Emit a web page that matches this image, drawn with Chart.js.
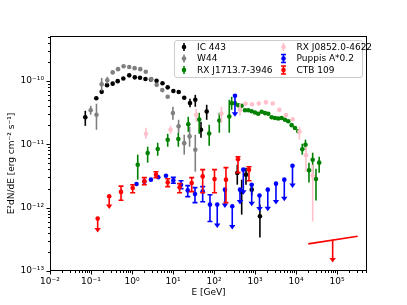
<!DOCTYPE html>
<html>
<head>
<meta charset="utf-8">
<script src="https://cdn.jsdelivr.net/npm/chart.js@4.4.0/dist/chart.umd.min.js"></script>
<style>
  html, body { margin: 0; padding: 0; background: #fff; }
</style>
</head>
<body>
<canvas id="sedChart" width="407" height="305"></canvas>
<script>
// IC 443
const ic443E = [0.0726, 0.1345, 0.182, 0.246, 0.338, 0.448, 0.614, 0.855, 1.17, 1.57, 2.13, 2.90, 3.98, 5.55, 7.43, 10.2, 13.8, 18.8, 26.0, 35.0, 48.2, 66.4, 370, 474, 603, 832, 1320];
const ic443F = [2.66e-11, 5.30e-11, 6.71e-11, 8.56e-11, 9.04e-11, 9.9e-11, 1.09e-10, 1.22e-10, 1.135e-10, 1.12e-10, 1.07e-10, 1.05e-10, 1.0e-10, 9.14e-11, 7.9e-11, 6.9e-11, 6.67e-11, 5.4e-11, 4.46e-11, 5.02e-11, 1.69e-11, 3.29e-11, 3.52e-12, 1.77e-12, 3.31e-12, 1.92e-12, 7.3e-13];
const ic443Lo = [1.95e-11, null, null, null, null, null, null, null, null, null, null, null, null, null, null, null, null, null, 3.83e-11, 3.9e-11, 1.265e-11, 2.43e-11, 2.30e-12, 7.76e-13, 2.30e-12, 1.55e-12, 3.37e-13];
const ic443Hi = [3.37e-11, null, null, null, null, null, null, null, null, null, null, null, null, null, null, null, null, null, 5.21e-11, 6.02e-11, 2.26e-11, 4.19e-11, 4.75e-12, 2.76e-12, 4.27e-12, 2.39e-12, 1.115e-12];

// W44
const w44E = [0.0984, 0.136, 0.182, 0.25, 0.338, 0.456, 0.624, 0.855, 1.16, 1.59, 2.17, 2.96, 4.0, 5.48, 7.43, 9.95, 13.7, 18.8, 25.4, 35.0];
const w44F = [3.43e-11, 2.92e-11, 8.81e-11, 1.02e-10, 1.36e-10, 1.53e-10, 1.70e-10, 1.65e-10, 1.585e-10, 1.53e-10, 1.39e-10, 1.07e-10, 8.65e-11, 7.14e-11, 5.6e-11, 3.10e-11, 1.92e-11, 1.04e-11, 1.33e-11, 8.19e-12];
const w44Lo = [2.92e-11, 1.69e-11, 6.97e-11, 8.97e-11, null, null, null, null, null, null, null, null, null, null, null, 2.43e-11, 1.52e-11, 6.84e-12, 9.14e-12, 3.69e-12];
const w44Hi = [4.04e-11, 4.35e-11, 1.114e-10, 1.16e-10, null, null, null, null, null, null, null, null, null, null, null, 3.9e-11, 2.43e-11, 1.41e-11, 1.89e-11, 1.41e-11];

// RX J1713.7-3946
const rxj1713E = [1.38, 2.41, 4.24, 7.43, 13.5, 23.6, 43.6, 76.4, 135, 236, 270, 325, 392, 474, 570, 687, 832, 1000, 1200, 1456, 1754, 2110, 2553, 3076, 3698, 4477, 5395, 6486, 7852, 9462, 11380, 14250, 17060, 20750, 25530, 30760, 36810];
const rxj1713F = [4.75e-12, 7.26e-12, 8.4e-12, 1.18e-11, 1.21e-11, 2.07e-11, 2.45e-11, 1.48e-11, 2.37e-11, 2.74e-11, 4.42e-11, 4.42e-11, 4.11e-11, 4.04e-11, 3.43e-11, 3.43e-11, 3.31e-11, 3.16e-11, 3.02e-11, 3.25e-11, 3.10e-11, 3.02e-11, 2.66e-11, 2.59e-11, 2.54e-11, 2.59e-11, 2.43e-11, 2.30e-11, 2.0e-11, 1.80e-11, 1.60e-11, 8.34e-12, 9.82e-12, 3.87e-12, 5.70e-12, 2.83e-12, 5.12e-12];
const rxj1713Lo = [2.76e-12, 5.12e-12, 6.59e-12, 9.14e-12, 9.14e-12, 1.57e-11, 1.46e-11, 9.46e-12, 1.52e-11, 1.52e-11, 3.49e-11, null, null, null, null, null, null, null, null, null, null, null, null, null, null, null, null, null, null, null, null, 6.84e-12, 8.19e-12, 2.48e-12, 3.19e-12, 1.29e-12, 3.56e-12];
const rxj1713Hi = [6.84e-12, 9.14e-12, 1.057e-11, 1.46e-11, 1.52e-11, 2.71e-11, 3.13e-11, 2.03e-11, 3.13e-11, 5.02e-11, 5.6e-11, null, null, null, null, null, null, null, null, null, null, null, null, null, null, null, null, null, null, null, null, 1.02e-11, 1.18e-11, 5.12e-12, 7.35e-12, 4.11e-12, 6.36e-12];

// RX J0852.0-4622
const rxj0852E = [2.19, 8.69, 37.0, 152, 431, 587, 845, 1239, 1854, 2704, 3917, 5703, 8318, 12160, 17540, 25530];
const rxj0852F = [1.46e-11, 1.69e-11, 2.92e-11, 3.02e-11, 3.49e-11, 4.35e-11, 4.27e-11, 4.39e-11, 4.58e-11, 4.39e-11, 3.49e-11, 2.88e-11, 2.48e-11, 1.57e-11, 6.71e-12, 3.19e-12];
const rxj0852Lo = [1.22e-11, 1.46e-11, 2.26e-11, 2.18e-11, 2.81e-11, null, null, null, null, null, null, null, null, 1.18e-11, 3.69e-12, 6.03e-13];
const rxj0852Hi = [1.82e-11, 1.95e-11, 3.62e-11, 3.9e-11, 4.35e-11, null, null, null, null, null, null, null, null, 1.89e-11, 9.14e-12, 4.75e-12];

// Puppis A (scaled by 0.2)
const puppisE = [1.29, 2.0, 2.90, 4.38, 6.75, 10.2, 15.7, 22.9, 34.4, 53.0, 79.8];
const puppisF = [2.36e-12, 2.57e-12, 2.76e-12, 3.02e-12, 3.19e-12, 2.69e-12, 2.30e-12, 1.87e-12, 1.64e-12, 1.81e-12, 1.115e-12];
const puppisLo = [null, null, null, null, null, 2.42e-12, 1.99e-12, 1.49e-12, 1.2e-12, 1.24e-12, 6.03e-13];
const puppisHi = [null, null, null, null, null, 3.0e-12, 2.66e-12, 2.22e-12, 2.07e-12, 2.14e-12, 1.6e-12];
const puppisUlE = [120, 185, 279, 325, 431, 519, 832, 1288, 2051, 3251, 5188, 8222];
const puppisUlF = [1.115e-12, 1.92e-12, 1.05e-12, 5.81e-11, 1.92e-12, 3.97e-12, 2.30e-12, 1.55e-12, 1.92e-12, 2.39e-12, 2.76e-12, 4.58e-12];
const puppisUlTip = [4.79e-13, 9.89e-13, 4.51e-13, 2.71e-11, 1.115e-12, 1.6e-12, 1.05e-12, 8.65e-13, 8.75e-13, 1.115e-12, 1.26e-12, 2.04e-12];

// CTB 109
const ctbE = [0.54, 1.04, 2.0, 3.85, 7.43, 14.5, 28.6, 53.0, 103, 196, 385, 714];
const ctbF = [1.77e-12, 2.04e-12, 2.61e-12, 3.31e-12, 2.50e-12, 2.10e-12, 2.45e-12, 3.11e-12, 2.83e-12, 2.76e-12, 5.81e-12, 3.97e-12];
const ctbLo = [1.31e-12, 1.72e-12, 2.30e-12, 2.97e-12, 2.14e-12, 1.72e-12, 1.79e-12, 1.72e-12, 1.72e-12, 1.2e-12, 3.56e-12, 2.66e-12];
const ctbHi = [2.18e-12, 2.30e-12, 2.97e-12, 3.69e-12, 2.86e-12, 2.39e-12, 2.97e-12, 3.97e-12, 3.97e-12, 4.27e-12, 6.36e-12, 4.42e-12];
const ctbUlE = [0.1455, 0.278];
const ctbUlF = [6.71e-13, 1.51e-12];
const ctbUlTip = [4.04e-13, 9.55e-13];
const ctbTevE = [19950, 3.2e5];
const ctbTevF = [2.68e-13, 3.53e-13];
const ctbTevUlE = [78500];
const ctbTevUlF = [3.13e-13];
const ctbTevUlTip = [1.36e-13];

// axes
const xMin = 1e-2, xMax = 5.4e5;
const yMin = 1e-13, yMax = 5.1e-10;
const xDecades = [-2, -1, 0, 1, 2, 3, 4, 5];
const yDecades = [-13, -12, -11, -10];
const xTitle = 'E [GeV]';
const yTitle = 'E\u00B2dN/dE [erg cm\u207B\u00B2 s\u207B\u00B9]';

const FONT = { family: 'DejaVu Sans', size: 9 };
const sup = { '-': '\u207B', '0': '\u2070', '1': '\u00B9', '2': '\u00B2', '3': '\u00B3', '4': '\u2074', '5': '\u2075', '6': '\u2076', '7': '\u2077', '8': '\u2078', '9': '\u2079' };
function powLabel(v) {
  const e = Math.round(Math.log10(v));
  return '10' + String(e).split('').map(c => sup[c]).join('');
}
function pts(xs, ys) { return xs.map((x, i) => ({ x: x, y: ys[i] })); }

function series(label, xs, ys, color, extra) {
  return Object.assign({
    label: label,
    data: pts(xs, ys),
    backgroundColor: color,
    borderColor: color,
    pointRadius: 2.3,
    pointBorderWidth: 0,
    showLine: false
  }, extra);
}

const datasets = [
  series('IC 443', ic443E, ic443F, '#000000', { lo: ic443Lo, hi: ic443Hi }),
  series('W44', w44E, w44F, '#808080', { lo: w44Lo, hi: w44Hi }),
  series('RX J1713.7-3946', rxj1713E, rxj1713F, '#008000', { lo: rxj1713Lo, hi: rxj1713Hi }),
  series('RX J0852.0-4622', rxj0852E, rxj0852F, '#ffc0cb', { lo: rxj0852Lo, hi: rxj0852Hi }),
  series('Puppis A*0.2', puppisE, puppisF, '#0000ff', { lo: puppisLo, hi: puppisHi, cap: true }),
  series('Puppis A UL', puppisUlE, puppisUlF, '#0000ff', { tip: puppisUlTip }),
  series('CTB 109', ctbE, ctbF, '#ff0000', { lo: ctbLo, hi: ctbHi, cap: true }),
  series('CTB 109 UL', ctbUlE, ctbUlF, '#ff0000', { tip: ctbUlTip }),
  series('CTB 109 TeV', ctbTevE, ctbTevF, '#ff0000', { showLine: true, pointRadius: 0, borderWidth: 1.6 }),
  series('CTB 109 TeV UL', ctbTevUlE, ctbTevUlF, '#ff0000', { tip: ctbTevUlTip, pointRadius: 0 })
];
datasets.forEach((d, i) => { d.order = datasets.length - i; });

// error bars and upper-limit arrows, drawn just before each dataset's markers
const errorBars = {
  id: 'errorBars',
  beforeDatasetDraw(chart, args) {
    const ds = chart.data.datasets[args.index];
    const xs = chart.scales.x, ys = chart.scales.y;
    const ctx = chart.ctx;
    ctx.save();
    ctx.strokeStyle = ds.borderColor;
    ctx.fillStyle = ds.borderColor;
    ctx.lineWidth = 1.6;
    ds.data.forEach((p, i) => {
      const px = xs.getPixelForValue(p.x);
      if (ds.lo && ds.lo[i] != null) {
        const y1 = ys.getPixelForValue(ds.hi[i]);
        const y2 = ys.getPixelForValue(ds.lo[i]);
        ctx.beginPath();
        ctx.moveTo(px, y1); ctx.lineTo(px, y2);
        if (ds.cap) {
          ctx.moveTo(px - 2.5, y1); ctx.lineTo(px + 2.5, y1);
          ctx.moveTo(px - 2.5, y2); ctx.lineTo(px + 2.5, y2);
        }
        ctx.stroke();
      }
      if (ds.tip) {
        const y1 = ys.getPixelForValue(p.y);
        const y2 = ys.getPixelForValue(ds.tip[i]);
        ctx.beginPath();
        ctx.moveTo(px, y1); ctx.lineTo(px, y2 - 3);
        ctx.stroke();
        ctx.beginPath();
        ctx.moveTo(px - 3.2, y2 - 4.5); ctx.lineTo(px + 3.2, y2 - 4.5); ctx.lineTo(px, y2);
        ctx.closePath();
        ctx.fill();
      }
    });
    ctx.restore();
  }
};

// matplotlib-like frame with outward major/minor ticks, plus the axis titles
const frameTicks = {
  id: 'frameTicks',
  afterDatasetsDraw(chart) {
    const { ctx, chartArea: a, scales: { x, y } } = chart;
    ctx.save();
    ctx.strokeStyle = '#000';
    ctx.lineWidth = 1;
    ctx.strokeRect(Math.round(a.left) + 0.5, Math.round(a.top) + 0.5, Math.round(a.width) - 1, Math.round(a.height) - 1);
    ctx.beginPath();
    for (let d = -3; d <= 6; d++) {
      for (let m = 1; m <= 9; m++) {
        const v = m * Math.pow(10, d);
        if (v < xMin * 0.999 || v > xMax) continue;
        const px = Math.round(x.getPixelForValue(v)) + 0.5;
        const len = m === 1 ? 3.5 : 2;
        ctx.moveTo(px, a.bottom); ctx.lineTo(px, a.bottom + len);
      }
    }
    for (let d = -14; d <= -9; d++) {
      for (let m = 1; m <= 9; m++) {
        const v = m * Math.pow(10, d);
        if (v < yMin * 0.999 || v > yMax) continue;
        const py = Math.round(y.getPixelForValue(v)) + 0.5;
        const len = m === 1 ? 3.5 : 2;
        ctx.moveTo(a.left, py); ctx.lineTo(a.left - len, py);
      }
    }
    ctx.stroke();

    ctx.fillStyle = '#000';
    ctx.font = '9px "DejaVu Sans"';
    ctx.textAlign = 'center';
    ctx.textBaseline = 'middle';
    ctx.fillText(xTitle, (a.left + a.right) / 2, a.bottom + 22);
    ctx.translate(a.left - 38, (a.top + a.bottom) / 2 + 10);
    ctx.rotate(-Math.PI / 2);
    ctx.fillText(yTitle, 0, 0);
    ctx.restore();
  }
};

// two-column legend in the upper right of the axes
const legendBox = {
  id: 'legendBox',
  afterDraw(chart) {
    const { ctx, chartArea: a } = chart;
    const items = [
      { i: 0, col: 0, row: 0 }, { i: 1, col: 0, row: 1 }, { i: 2, col: 0, row: 2 },
      { i: 3, col: 1, row: 0 }, { i: 4, col: 1, row: 1 }, { i: 6, col: 1, row: 2 }
    ];
    const bx = a.right - 193, by = a.top + 4, bw = 188, bh = 37;
    ctx.save();
    ctx.beginPath();
    ctx.roundRect(bx + 0.5, by + 0.5, bw, bh, 2.5);
    ctx.fillStyle = 'rgba(255,255,255,0.8)';
    ctx.fill();
    ctx.strokeStyle = '#cccccc';
    ctx.lineWidth = 1;
    ctx.stroke();
    ctx.font = '9px "DejaVu Sans"';
    ctx.textBaseline = 'middle';
    items.forEach(it => {
      const ds = chart.data.datasets[it.i];
      const mx = bx + 10 + it.col * 99.5;
      const my = by + 7 + it.row * 11.5;
      ctx.strokeStyle = ds.borderColor;
      ctx.fillStyle = ds.borderColor;
      ctx.lineWidth = 1.6;
      ctx.beginPath();
      ctx.moveTo(mx, my - 4); ctx.lineTo(mx, my + 4);
      if (ds.cap) {
        ctx.moveTo(mx - 2.5, my - 4); ctx.lineTo(mx + 2.5, my - 4);
        ctx.moveTo(mx - 2.5, my + 4); ctx.lineTo(mx + 2.5, my + 4);
      }
      ctx.stroke();
      ctx.beginPath();
      ctx.arc(mx, my, 2.3, 0, Math.PI * 2);
      ctx.fill();
      ctx.fillStyle = '#000';
      ctx.fillText(ds.label, mx + 13, my + 0.5);
    });
    ctx.restore();
  }
};

new Chart(document.getElementById('sedChart'), {
  type: 'scatter',
  data: { datasets: datasets },
  options: {
    responsive: false,
    animation: false,
    layout: { padding: { left: 0, right: 40, top: 36, bottom: 0 } },
    plugins: { legend: { display: false }, tooltip: { enabled: false } },
    scales: {
      x: {
        type: 'logarithmic',
        min: xMin,
        max: xMax,
        grid: { display: false, drawTicks: false },
        border: { display: false },
        afterBuildTicks: s => { s.ticks = xDecades.map(e => ({ value: Math.pow(10, e) })); },
        afterFit: s => { s.height = 34; },
        ticks: { callback: v => powLabel(v), autoSkip: false, maxRotation: 0, padding: 5, color: '#000', font: FONT }
      },
      y: {
        type: 'logarithmic',
        min: yMin,
        max: yMax,
        grid: { display: false, drawTicks: false },
        border: { display: false },
        afterBuildTicks: s => { s.ticks = yDecades.map(e => ({ value: Math.pow(10, e) })); },
        afterFit: s => { s.width = 50; },
        ticks: { callback: v => powLabel(v), autoSkip: false, padding: 6, color: '#000', font: FONT }
      }
    }
  },
  plugins: [errorBars, frameTicks, legendBox]
});
</script>
</body>
</html>
